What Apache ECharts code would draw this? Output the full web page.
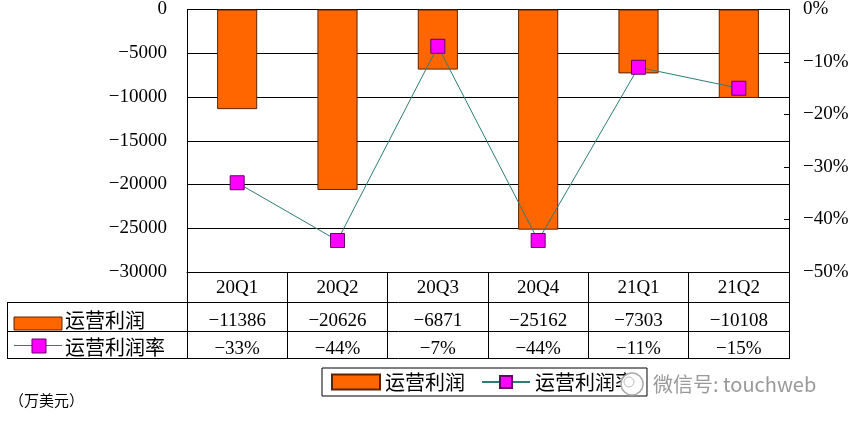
<!DOCTYPE html>
<html><head><meta charset="utf-8">
<script src="https://cdn.jsdelivr.net/npm/echarts@6/dist/echarts.min.js"></script>
<style>html,body{margin:0;padding:0;background:#fff}#c{width:852px;height:421px}</style>
</head><body><div id="c"></div>
<script>
const categories = ['20Q1','20Q2','20Q3','20Q4','21Q1','21Q2'];
const profit = [-11386, -20626, -6871, -25162, -7303, -10108];
const profitMargin = [-33, -44, -7, -44, -11, -15];
const seriesNames = ['运营利润', '运营利润率'];
const unitNote = '（万美元）';
const watermark = '微信号: touchweb';

const numFont = 'Liberation Serif';
const cjkFont = 'Noto Sans CJK SC';
const minus = s => String(s).replace('-', '\u2212');

const GL = 187, GR = 789, GT = 7, GB = 272;
const TL = 7, R1 = 302, R2 = 331, R3 = 358;

const chart = echarts.init(document.getElementById('c'), null, {renderer: 'canvas'});

function hline(x1, x2, y) { return {type:'line', shape:{x1:x1, y1:y+0.5, x2:x2, y2:y+0.5}, style:{stroke:'#000', lineWidth:1}, z:10}; }
function vline(x, y1, y2) { return {type:'line', shape:{x1:x+0.5, y1:y1, x2:x+0.5, y2:y2}, style:{stroke:'#000', lineWidth:1}, z:10}; }

const option = {
  animation: false,
  backgroundColor: '#fff',
  grid: {left: GL, right: 852 - GR, top: GT, bottom: 421 - GB, containLabel: false},
  legend: {
    left: 322, top: 368,
    padding: [4, 12, 4, 9],
    borderColor: '#000', borderWidth: 1,
    itemWidth: 48, itemHeight: 15, itemGap: 16,
    textStyle: {fontFamily: cjkFont, fontSize: 20, color: '#000'},
    data: [{name: seriesNames[0], icon: 'rect'}, {name: seriesNames[1]}]
  },
  xAxis: [
    {
      type: 'category', data: categories, position: 'bottom', gridIndex: 0,
      axisLine: {onZero: false, lineStyle: {color: '#000', width: 1}},
      axisTick: {show: true, length: R3 - GB, lineStyle: {color: '#000'}},
      axisLabel: {margin: 7, fontFamily: numFont, fontSize: 19, color: '#000'}
    },
    {
      type: 'category', data: profit.map(minus), position: 'bottom', offset: 33, gridIndex: 0,
      axisLine: {show: false}, axisTick: {show: false},
      axisLabel: {margin: 7, fontFamily: numFont, fontSize: 19, color: '#000'}
    },
    {
      type: 'category', data: profitMargin.map(v => minus(v) + '%'), position: 'bottom', offset: 61, gridIndex: 0,
      axisLine: {show: false}, axisTick: {show: false},
      axisLabel: {margin: 7, fontFamily: numFont, fontSize: 19, color: '#000'}
    }
  ],
  yAxis: [
    {
      type: 'value', min: -30000, max: 0, interval: 5000, position: 'left',
      axisLine: {show: true, lineStyle: {color: '#000'}},
      axisTick: {show: false},
      splitLine: {show: true, lineStyle: {color: '#000', width: 1}},
      axisLabel: {margin: 20, fontFamily: numFont, fontSize: 19, color: '#000', formatter: v => minus(v)}
    },
    {
      type: 'value', min: -50, max: 0, interval: 10, position: 'right',
      axisLine: {show: true, lineStyle: {color: '#000'}},
      axisTick: {show: true, inside: true, length: 5, lineStyle: {color: '#000'}},
      splitLine: {show: false},
      axisLabel: {margin: 14, fontFamily: numFont, fontSize: 19, color: '#000', formatter: v => minus(v) + '%'}
    }
  ],
  series: [
    {
      name: seriesNames[0], type: 'bar', data: profit, xAxisIndex: 0, yAxisIndex: 0,
      barWidth: '40%',
      itemStyle: {color: '#FF6600', borderColor: '#5a2500', borderWidth: 1},
      z: 2
    },
    {
      name: seriesNames[1], type: 'line', data: profitMargin, xAxisIndex: 0, yAxisIndex: 1,
      symbol: 'rect', symbolSize: 14, showSymbol: true,
      lineStyle: {color: '#2E7D74', width: 1},
      itemStyle: {color: '#FF00FF', borderColor: '#660066', borderWidth: 1},
      z: 3
    }
  ],
  graphic: [
    hline(TL, GR + 1, R1), hline(TL, GR + 1, R2), hline(TL, GR + 1, R3),
    vline(TL, R1, R3 + 1),
    {type:'rect', shape:{x:14, y:317, width:48, height:13}, style:{fill:'#FF6600', stroke:'#5a2500', lineWidth:1}, z:10},
    {type:'text', x:65, y:320, style:{text: seriesNames[0], font: '20px "' + cjkFont + '"', fill:'#000', verticalAlign:'middle'}, z:10},
    {type:'line', shape:{x1:14, y1:345.5, x2:62, y2:345.5}, style:{stroke:'#2E7D74', lineWidth:1}, z:10},
    {type:'rect', shape:{x:32, y:339, width:14, height:14}, style:{fill:'#FF00FF', stroke:'#660066', lineWidth:1}, z:11},
    {type:'text', x:65, y:347, style:{text: seriesNames[1], font: '20px "' + cjkFont + '"', fill:'#000', verticalAlign:'middle'}, z:10},
    {type:'text', x:9, y:400, style:{text: unitNote, font: '15px "' + cjkFont + '"', fill:'#000', verticalAlign:'middle'}, z:10},
    {type:'circle', shape:{cx:632, cy:384, r:11}, style:{fill:'#fff', stroke:'#aaa', lineWidth:1.5}, z:100},
    {type:'circle', shape:{cx:629, cy:382, r:5}, style:{fill:'#fff', stroke:'#bbb', lineWidth:1}, z:101},
    {type:'text', x:653, y:384, style:{text: watermark, font: '20px "' + cjkFont + '"', fill:'#999', verticalAlign:'middle'}, z:100}
  ]
};
chart.setOption(option);
</script></body></html>
